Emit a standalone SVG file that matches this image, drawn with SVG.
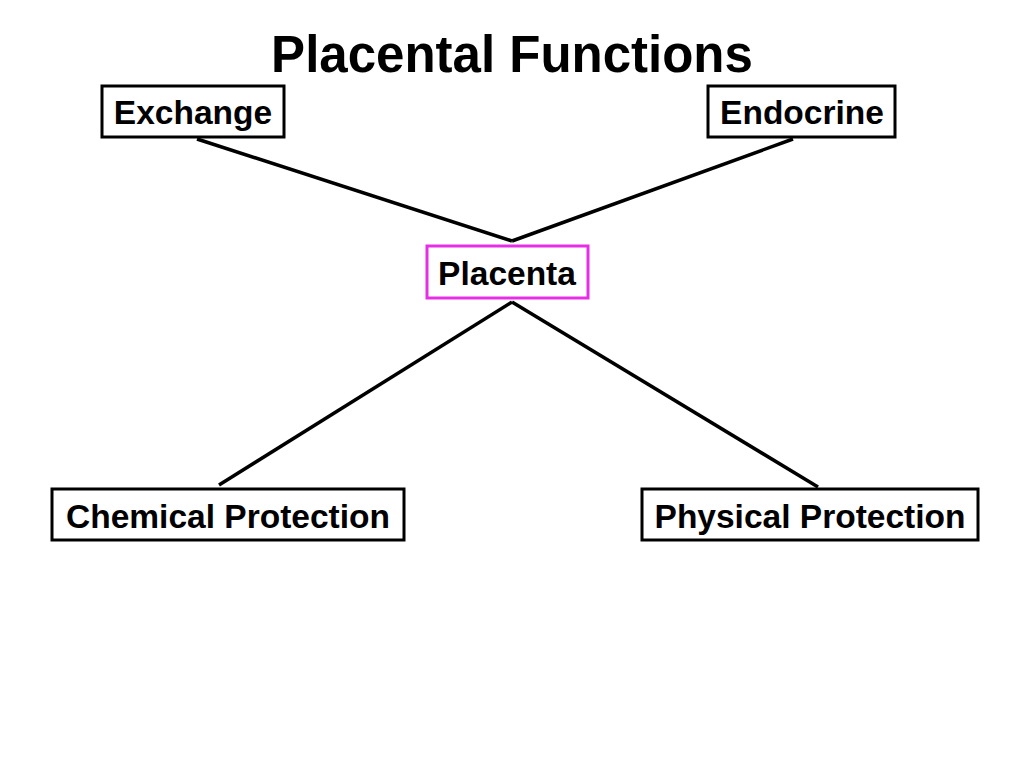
<svg xmlns="http://www.w3.org/2000/svg" width="1024" height="768" viewBox="0 0 1024 768">
<style>
text{font-family:"Liberation Sans",Arial,sans-serif;font-weight:bold;fill:#000;text-anchor:middle}
.n{font-size:33.5px}
.b{fill:#fff;stroke:#000;stroke-width:3}
.c line{stroke:#000;stroke-width:3.5}
</style>
<rect width="1024" height="768" fill="#fff"/>
<text x="512" y="72" font-size="51">Placental Functions</text>
<g class="c" id="connectors">
<line x1="197" y1="139" x2="512" y2="241"/>
<line x1="793" y1="139" x2="512" y2="241"/>
<line x1="512" y1="302" x2="219" y2="485"/>
<line x1="512" y1="302" x2="818" y2="487"/>
</g>
<g id="exchange"><rect class="b" x="102" y="86" width="182" height="51"/><text class="n" x="193" y="124">Exchange</text></g>
<g id="endocrine"><rect class="b" x="708" y="86" width="187" height="51"/><text class="n" x="802" y="124">Endocrine</text></g>
<g id="placenta"><rect class="b" x="427" y="246" width="161" height="52" style="stroke:#e62ee6"/><text class="n" x="507" y="285">Placenta</text></g>
<g id="chemical"><rect class="b" x="52" y="489" width="352" height="51"/><text class="n" x="228" y="528">Chemical Protection</text></g>
<g id="physical"><rect class="b" x="642" y="489" width="336" height="51"/><text class="n" x="810" y="528">Physical Protection</text></g>
</svg>
